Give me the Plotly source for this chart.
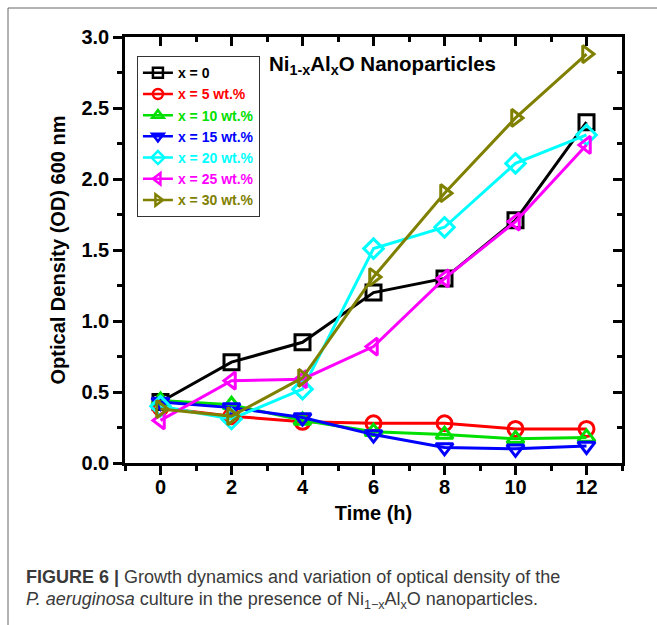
import plotly.graph_objects as go

time_h = [0, 2, 4, 6, 8, 10, 12]
od_x0 = [0.43, 0.71, 0.85, 1.20, 1.30, 1.71, 2.40]
od_x5 = [0.39, 0.33, 0.29, 0.28, 0.28, 0.24, 0.24]
od_x10 = [0.44, 0.41, 0.30, 0.22, 0.20, 0.17, 0.18]
od_x15 = [0.43, 0.39, 0.32, 0.20, 0.11, 0.10, 0.12]
od_x20 = [0.40, 0.31, 0.52, 1.51, 1.66, 2.11, 2.31]
od_x25 = [0.30, 0.58, 0.59, 0.82, 1.30, 1.70, 2.24]
od_x30 = [0.38, 0.33, 0.60, 1.31, 1.90, 2.43, 2.88]

series_names = ["x = 0", "x = 5 wt.%", "x = 10 wt.%", "x = 15 wt.%",
                "x = 20 wt.%", "x = 25 wt.%", "x = 30 wt.%"]
series_values = [od_x0, od_x5, od_x10, od_x15, od_x20, od_x25, od_x30]
series_colors = ["#000000", "#FF0000", "#00E000", "#0000FF",
                 "#00FFFF", "#FF00FF", "#808000"]
series_symbols = ["square-open", "circle-open", "triangle-up-open",
                  "triangle-down-open", "diamond-open", "triangle-left-open",
                  "triangle-right-open"]

FONT = "Arial, 'Liberation Sans', sans-serif"

fig = go.Figure()
for name, vals, col, sym in zip(series_names, series_values, series_colors, series_symbols):
    fig.add_trace(go.Scatter(
        x=time_h, y=vals, mode="lines+markers", showlegend=False,
        line=dict(color=col, width=3),
        marker=dict(symbol=sym, size=15, color=col, line=dict(color=col, width=3)),
    ))
# legend entries with smaller symbols
for name, col, sym in zip(series_names, series_colors, series_symbols):
    fig.add_trace(go.Scatter(
        x=[None], y=[None], mode="lines+markers",
        name=f'<span style="color:{col}"><b>{name}</b></span>',
        line=dict(color=col, width=2.5),
        marker=dict(symbol=sym, size=10, color=col, line=dict(color=col, width=2.5)),
    ))

# helper trace for mirrored inward ticks
fig.add_trace(go.Scatter(x=[], y=[], xaxis="x2", yaxis="y2", showlegend=False,
                         hoverinfo="skip", mode="lines"))

axis_font = dict(family=FONT, size=20, color="black")
tick_font = dict(family=FONT, size=20, color="black", weight="bold")

fig.update_layout(
    width=657, height=625,
    margin=dict(l=125, r=35, t=37, b=162),
    paper_bgcolor="white", plot_bgcolor="white",
    font=dict(family=FONT, color="black"),
    showlegend=True,
    legend=dict(
        x=0.024, y=0.955, xanchor="left", yanchor="top",
        bgcolor="white", bordercolor="#333", borderwidth=1,
        font=dict(family=FONT, size=14, color="black"),
        itemwidth=30, tracegroupgap=0,
    ),
    xaxis=dict(
        range=[-1, 13], tick0=0, dtick=2, ticks="outside", ticklen=9, tickwidth=2.5,
        tickcolor="black", showline=True, linewidth=2.5, linecolor="black", mirror=True,
        showgrid=False, zeroline=False,
        tickfont=tick_font,
        ticklabelstandoff=-5,
        minor=dict(dtick=1, tick0=0, ticks="outside", ticklen=5, tickwidth=2.5,
                   tickcolor="black", showgrid=False),
        title=dict(text="<b>Time (h)</b>", font=axis_font, standoff=10),
    ),
    yaxis=dict(
        range=[0, 3], tick0=0, dtick=0.5, ticks="outside", ticklen=9, tickwidth=2.5,
        tickcolor="black", showline=True, linewidth=2.5, linecolor="black", mirror=True,
        showgrid=False, zeroline=False, tickformat=".1f",
        tickfont=tick_font,
        minor=dict(dtick=0.25, tick0=0, ticks="outside", ticklen=5, tickwidth=2.5,
                   tickcolor="black", showgrid=False),
        title=dict(text="<b>Optical Density (OD) 600 nm</b>", font=axis_font, standoff=11),
    ),
    xaxis2=dict(
        overlaying="x", side="top", anchor="y", range=[-1, 13], tick0=0, dtick=2,
        ticks="inside", ticklen=9, tickwidth=2.5, tickcolor="black",
        showticklabels=False, showline=False, showgrid=False, zeroline=False,
        minor=dict(dtick=1, tick0=0, ticks="inside", ticklen=5, tickwidth=2.5,
                   tickcolor="black", showgrid=False),
    ),
    yaxis2=dict(
        overlaying="y", side="right", anchor="x", range=[0, 3], tick0=0, dtick=0.5,
        ticks="inside", ticklen=9, tickwidth=2.5, tickcolor="black",
        showticklabels=False, showline=False, showgrid=False, zeroline=False,
        minor=dict(dtick=0.25, tick0=0, ticks="inside", ticklen=5, tickwidth=2.5,
                   tickcolor="black", showgrid=False),
    ),
)

# In-plot label
fig.add_annotation(
    text="<b>Ni<sub>1-x</sub>Al<sub>x</sub>O Nanoparticles</b>",
    xref="paper", yref="paper", x=0.285, y=0.935, xanchor="left", yanchor="middle",
    showarrow=False, font=dict(family=FONT, size=20.5, color="black"),
)

# Caption
fig.add_annotation(
    text="<b>FIGURE 6 |</b> Growth dynamics and variation of optical density of the",
    xref="paper", yref="paper", x=-0.203, y=-0.268, xanchor="left", yanchor="middle",
    showarrow=False, font=dict(family=FONT, size=18, color="#3a3a3a"), align="left",
)
fig.add_annotation(
    text="<i>P. aeruginosa</i> culture in the presence of Ni<sub>1\u2212x</sub>Al<sub>x</sub>O nanoparticles.",
    xref="paper", yref="paper", x=-0.203, y=-0.322, xanchor="left", yanchor="middle",
    showarrow=False, font=dict(family=FONT, size=18, color="#3a3a3a"), align="left",
)

# Page frame lines (left and top)
fig.add_shape(type="line", xref="paper", yref="paper",
              x0=(8 - 125) / 497, x1=(8 - 125) / 497, y0=(463 - 8) / 426, y1=(463 - 640) / 426,
              line=dict(color="#666", width=1))
fig.add_shape(type="line", xref="paper", yref="paper",
              x0=(8 - 125) / 497, x1=(670 - 125) / 497, y0=(463 - 8) / 426, y1=(463 - 8) / 426,
              line=dict(color="#666", width=1))

fig.write_html("out.html")
